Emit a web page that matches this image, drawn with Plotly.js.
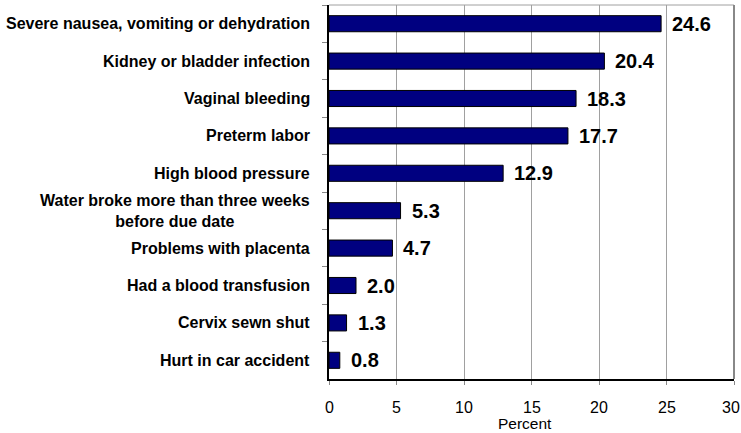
<!DOCTYPE html>
<html><head><meta charset="utf-8">
<script src="https://cdn.plot.ly/plotly-3.0.1.min.js"></script>
<style>html,body{margin:0;padding:0;background:#fff}#chart{width:741px;height:433px}</style>
</head><body><div id="chart"></div>
<script>
const categories = [
  "Severe nausea, vomiting or dehydration",
  "Kidney or bladder infection",
  "Vaginal bleeding",
  "Preterm labor",
  "High blood pressure",
  "Water broke more than three weeks<br>before due date",
  "Problems with placenta",
  "Had a blood transfusion",
  "Cervix sewn shut",
  "Hurt in car accident"
];
const values = [24.6, 20.4, 18.3, 17.7, 12.9, 5.3, 4.7, 2.0, 1.3, 0.8];
const valueLabels = ["24.6","20.4","18.3","17.7","12.9","5.3","4.7","2.0","1.3","0.8"];
const xTicks = [0, 5, 10, 15, 20, 25, 30];
const xTitle = "Percent";

const font = "Liberation Sans, Arial, sans-serif";
const annotations = [];
categories.forEach((c, i) => {
  annotations.push({x: 0, xref: 'paper', y: c, yref: 'y', text: '<b>' + c + '</b>',
    xanchor: 'right', yanchor: 'middle', xshift: -17, showarrow: false, align: 'center',
    font: {family: font, size: 16, color: '#000'}});
  annotations.push({x: values[i], xref: 'x', y: c, yref: 'y', text: '<b>' + valueLabels[i] + '</b>',
    xanchor: 'left', yanchor: 'middle', xshift: 9, showarrow: false,
    font: {family: font, size: 20, color: '#000'}});
});
xTicks.forEach((t, i) => {
  annotations.push({x: t, xref: 'x', y: 0, yref: 'paper', yshift: -28, text: String(t),
    xanchor: 'center', yanchor: 'middle', showarrow: false,
    xshift: i === xTicks.length - 1 ? -3 : 0,
    font: {family: font, size: 16, color: '#000'}});
});
annotations.push({x: 0.483, xref: 'paper', y: 0, yref: 'paper', yshift: -44, text: xTitle,
  xanchor: 'center', yanchor: 'middle', showarrow: false,
  font: {family: font, size: 15.5, color: '#000'}});

Plotly.newPlot('chart', [{
  type: 'bar', orientation: 'h', x: values, y: categories,
  marker: {color: '#000080', line: {color: '#000', width: 1}},
  hoverinfo: 'none'
}], {
  width: 741, height: 433,
  margin: {l: 329, r: 7, t: 5, b: 54},
  paper_bgcolor: '#fff', plot_bgcolor: '#fff',
  bargap: 0.57,
  showlegend: false,
  font: {family: font, color: '#000'},
  xaxis: {range: [0, 30], tickvals: xTicks, showticklabels: false,
    showgrid: true, gridcolor: '#a0a0a0', gridwidth: 1,
    showline: true, linecolor: '#000', linewidth: 2, mirror: false,
    ticks: 'outside', ticklen: 4, tickcolor: '#888', zeroline: false},
  yaxis: {type: 'category', autorange: 'reversed', showticklabels: false,
    showline: true, linecolor: '#000', linewidth: 2,
    ticks: 'outside', ticklen: 5, tickcolor: '#888', tickson: 'boundaries', showgrid: false},
  shapes: [
    {type: 'line', xref: 'paper', yref: 'paper', x0: 0, x1: 1, y0: 1, y1: 1, line: {color: '#a0a0a0', width: 1}},
    {type: 'line', xref: 'paper', yref: 'paper', x0: 1, x1: 1, y0: 0, y1: 1, line: {color: '#888', width: 2}}
  ],
  annotations: annotations
}, {staticPlot: true});
</script></body></html>
